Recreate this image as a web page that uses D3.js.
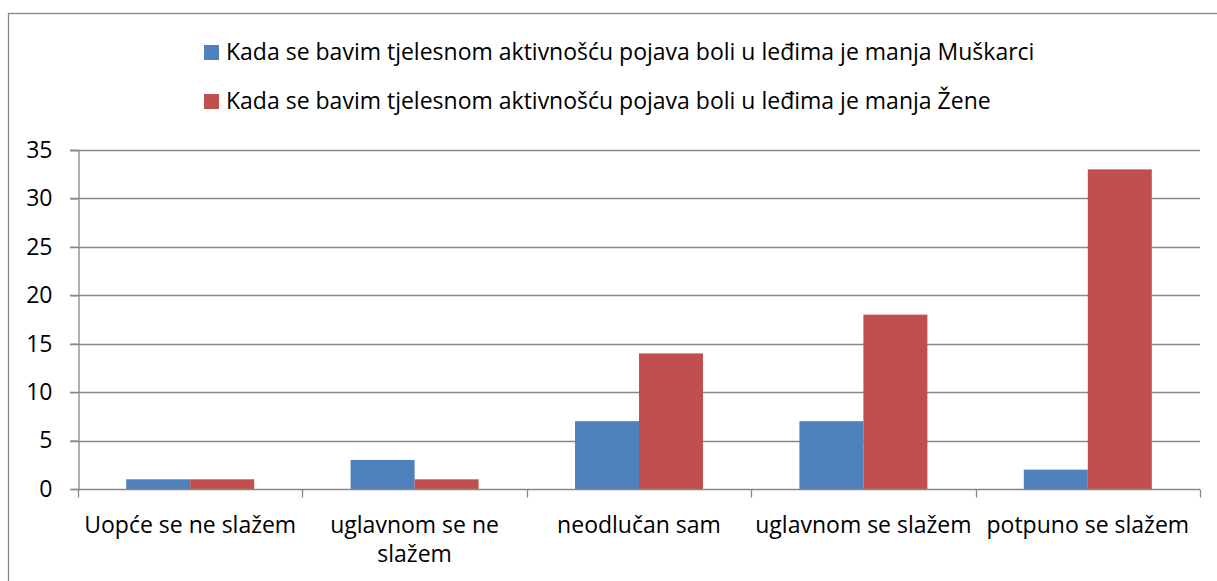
<!DOCTYPE html>
<html>
  <head>
    <meta charset="utf-8">
    <title>Kada se bavim tjelesnom aktivnošću pojava boli u leđima je manja</title>
    <style type="text/css">
        body { margin: 0; background: #fff; }
        svg text { font-family: "Open Sans", sans-serif; fill: #000; }
    </style>
  </head>
  <body>
    <svg width="1217" height="581"></svg>

    <script src="https://d3js.org/d3.v7.min.js"></script>
    <script>

    // Chart data
    var categories = ["Uopće se ne slažem", "uglavnom se ne slažem", "neodlučan sam", "uglavnom se slažem", "potpuno se slažem"];
    var categoryLines = [["Uopće se ne slažem"], ["uglavnom se ne", "slažem"], ["neodlučan sam"], ["uglavnom se slažem"], ["potpuno se slažem"]];
    var seriesNames = ["Kada se bavim tjelesnom aktivnošću pojava boli u leđima je manja Muškarci",
                       "Kada se bavim tjelesnom aktivnošću pojava boli u leđima je manja Žene"];
    var muskarci = [1, 3, 7, 7, 2];
    var zene = [1, 1, 14, 18, 33];
    var yTicks = [0, 5, 10, 15, 20, 25, 30, 35];
    var colors = ["#4f81bd", "#c0504d"];

    var fontSize = 23;

    var svg = d3.select("svg");

    // Outer chart frame (runs off the right and bottom edges)
    svg.append("rect")
        .attr("x", 8.5)
        .attr("y", 13.5)
        .attr("width", 1230)
        .attr("height", 600)
        .attr("fill", "none")
        .attr("stroke", "#888")
        .attr("stroke-width", 1.3);

    var plotLeft = 78, plotRight = 1200, plotTop = 150, plotBottom = 489;

    var x0 = d3.scaleBand()
        .domain(categories)
        .range([plotLeft, plotRight]);

    var x1 = d3.scaleBand()
        .domain([0, 1])
        .range([0, 128]);

    var y = d3.scaleLinear()
        .domain([0, 35])
        .range([plotBottom, plotTop]);

    // Gridlines
    svg.append("g").selectAll("line")
        .data(yTicks.filter(function(d) { return d > 0; }))
        .enter().append("line")
        .attr("x1", plotLeft - 8)
        .attr("x2", plotRight)
        .attr("y1", function(d) { return Math.round(y(d)) + 0.5; })
        .attr("y2", function(d) { return Math.round(y(d)) + 0.5; })
        .attr("stroke", "#888")
        .attr("stroke-width", 1.3);

    // Bars
    var rows = categories.map(function(c, i) { return [muskarci[i], zene[i]]; });
    var groups = svg.append("g").selectAll("g")
        .data(rows)
        .enter().append("g")
        .attr("transform", function(d, i) {
            return "translate(" + (x0(categories[i]) + (x0.bandwidth() - 128) / 2) + ",0)";
        });

    groups.selectAll("rect")
        .data(function(d) { return d; })
        .enter().append("rect")
        .attr("x", function(d, j) { return x1(j); })
        .attr("width", x1.bandwidth())
        .attr("y", function(d) { return y(d); })
        .attr("height", function(d) { return y(0) - y(d); })
        .attr("fill", function(d, j) { return colors[j]; });

    // Y axis
    var yAxis = svg.append("g")
        .attr("transform", "translate(" + (plotLeft + 0.5) + ",0)")
        .call(d3.axisLeft(y).tickValues(yTicks).tickSize(8).tickPadding(18).tickFormat(d3.format("d")));
    yAxis.select(".domain").attr("stroke", "#888").attr("stroke-width", 1.3);
    yAxis.selectAll(".tick line").attr("stroke", "#888").attr("stroke-width", 1.3);
    yAxis.selectAll(".tick text")
        .attr("font-size", fontSize)
        .style("font-family", "'Open Sans', sans-serif");

    // X axis
    var xAxis = svg.append("g")
        .attr("transform", "translate(0," + (plotBottom + 0.5) + ")");
    xAxis.append("line")
        .attr("x1", plotLeft).attr("x2", plotRight)
        .attr("stroke", "#888").attr("stroke-width", 1.3);
    xAxis.selectAll(".xt")
        .data(categories.concat(["end"]))
        .enter().append("line")
        .attr("x1", function(d, i) { return Math.round(plotLeft + i * x0.step()) + 0.5; })
        .attr("x2", function(d, i) { return Math.round(plotLeft + i * x0.step()) + 0.5; })
        .attr("y1", 0).attr("y2", 8)
        .attr("stroke", "#888").attr("stroke-width", 1.3);

    var labels = xAxis.selectAll(".xl")
        .data(categoryLines)
        .enter().append("text")
        .attr("text-anchor", "middle")
        .attr("font-size", fontSize)
        .attr("x", function(d, i) { return x0(categories[i]) + x0.bandwidth() / 2; })
        .attr("y", 43);
    labels.selectAll("tspan")
        .data(function(d) { return d; })
        .enter().append("tspan")
        .attr("x", function() { return d3.select(this.parentNode).attr("x"); })
        .attr("dy", function(d, k) { return k === 0 ? 0 : 29; })
        .text(function(d) { return d; });

    // Legend
    var legend = svg.append("g").selectAll("g")
        .data(seriesNames)
        .enter().append("g")
        .attr("transform", function(d, i) { return "translate(204," + (45 + i * 49) + ")"; });
    legend.append("rect")
        .attr("width", 15).attr("height", 15)
        .attr("fill", function(d, i) { return colors[i]; });
    legend.append("text")
        .attr("x", 22)
        .attr("y", 15)
        .attr("font-size", fontSize)
        .text(function(d) { return d; });

    </script>
  </body>
</html>
